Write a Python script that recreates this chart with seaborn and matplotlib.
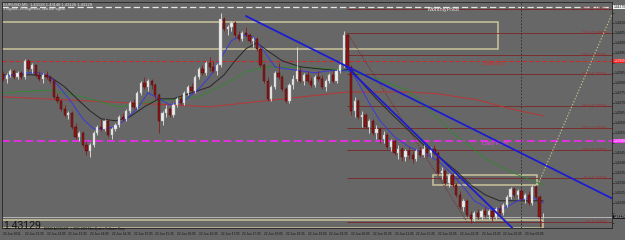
import numpy as np
import pandas as pd
import matplotlib
matplotlib.use("Agg")
import matplotlib.pyplot as plt
import matplotlib.transforms as mtransforms
from matplotlib.patches import Rectangle
import seaborn as sns

# ---------------- data ----------------
start_time = "2011-06-22 12:05"
opens = [1.4384, 1.4382, 1.4384, 1.4386, 1.4383, 1.4385, 1.4383, 1.4391, 1.4387, 1.4389,
         1.4384, 1.4382, 1.4384, 1.4383, 1.4381, 1.4373, 1.4371, 1.4367, 1.4364, 1.4365,
         1.4358, 1.4353, 1.4355, 1.4349, 1.4346, 1.4349, 1.4355, 1.4358, 1.4357, 1.4361,
         1.4354, 1.4357, 1.4359, 1.4363, 1.4362, 1.4366, 1.4370, 1.4368, 1.4375, 1.4380,
         1.4378, 1.4381, 1.4379, 1.4374, 1.4361, 1.4365, 1.4367, 1.4364, 1.4369, 1.4372,
         1.4370, 1.4375, 1.4378, 1.4376, 1.4383, 1.4387, 1.4385, 1.4390, 1.4388, 1.4386,
         1.4389, 1.4412, 1.4407, 1.4408, 1.4410, 1.4404, 1.4402, 1.4405, 1.4404, 1.4401,
         1.4402, 1.4397, 1.4389, 1.4381, 1.4372, 1.4378, 1.4385, 1.4383, 1.4377, 1.4371,
         1.4379, 1.4382, 1.4386, 1.4381, 1.4384, 1.4381, 1.4379, 1.4383, 1.4382, 1.4378,
         1.4381, 1.4384, 1.4381, 1.4386, 1.4389, 1.4404, 1.4388, 1.4366, 1.4371, 1.4363,
         1.4364, 1.4358, 1.4361, 1.4355, 1.4357, 1.4352, 1.4354, 1.4348, 1.4351, 1.4345,
         1.4347, 1.4343, 1.4346, 1.4344, 1.4342, 1.4346, 1.4344, 1.4347, 1.4345, 1.4347,
         1.4345, 1.4335, 1.4336, 1.4330, 1.4334, 1.4329, 1.4324, 1.4318, 1.4321, 1.4314,
         1.4312, 1.4315, 1.4313, 1.4316, 1.4314, 1.4316, 1.4313, 1.4317, 1.4315, 1.4319,
         1.4323, 1.4327, 1.4324, 1.4326, 1.4322, 1.4324, 1.4320, 1.4328, 1.4323, 1.43128]
highs = [1.4386, 1.4385, 1.4387, 1.4387, 1.4386, 1.4386, 1.4392, 1.4392, 1.4390, 1.4389,
         1.4386, 1.4385, 1.4386, 1.4384, 1.4382, 1.4375, 1.4372, 1.4369, 1.4366, 1.4366,
         1.4360, 1.4356, 1.4356, 1.4351, 1.4350, 1.4356, 1.4359, 1.4362, 1.4362, 1.4362,
         1.4358, 1.4360, 1.4364, 1.4365, 1.4367, 1.4371, 1.4372, 1.4376, 1.4381, 1.4383,
         1.4382, 1.4382, 1.4380, 1.4375, 1.4366, 1.4369, 1.4368, 1.4370, 1.4373, 1.4374,
         1.4376, 1.4379, 1.4380, 1.4384, 1.4388, 1.4389, 1.4391, 1.4393, 1.4391, 1.4390,
         1.4415, 1.4413, 1.4409, 1.4411, 1.4411, 1.4406, 1.4406, 1.4408, 1.4405, 1.4403,
         1.4403, 1.4398, 1.4390, 1.4383, 1.4379, 1.4386, 1.4390, 1.4384, 1.4378, 1.4380,
         1.4384, 1.4398, 1.4388, 1.4385, 1.4386, 1.4383, 1.4384, 1.4386, 1.4384, 1.4382,
         1.4385, 1.4386, 1.4387, 1.4391, 1.4406, 1.4405, 1.4389, 1.4373, 1.4372, 1.4366,
         1.4365, 1.4362, 1.4362, 1.4359, 1.4358, 1.4356, 1.4355, 1.4352, 1.4352, 1.4349,
         1.4348, 1.4347, 1.4348, 1.4346, 1.4347, 1.4348, 1.4349, 1.4348, 1.4348, 1.4349,
         1.4346, 1.4338, 1.4337, 1.4335, 1.4335, 1.4330, 1.4326, 1.4322, 1.4322, 1.4316,
         1.4316, 1.4317, 1.4317, 1.4318, 1.4317, 1.4317, 1.4318, 1.4319, 1.4320, 1.4324,
         1.4328, 1.4328, 1.4327, 1.4327, 1.4325, 1.4326, 1.4329, 1.4329, 1.4324, 1.43148]
lows = [1.4381, 1.4380, 1.4383, 1.4382, 1.4382, 1.4382, 1.4382, 1.4386, 1.4385, 1.4383,
        1.4381, 1.4380, 1.4382, 1.4380, 1.4372, 1.4370, 1.4366, 1.4363, 1.4362, 1.4357,
        1.4352, 1.4351, 1.4348, 1.4344, 1.4343, 1.4348, 1.4354, 1.4356, 1.4356, 1.4353,
        1.4352, 1.4356, 1.4358, 1.4361, 1.4361, 1.4365, 1.4367, 1.4367, 1.4374, 1.4377,
        1.4376, 1.4377, 1.4372, 1.4355, 1.4359, 1.4363, 1.4363, 1.4363, 1.4368, 1.4369,
        1.4369, 1.4374, 1.4375, 1.4375, 1.4382, 1.4384, 1.4384, 1.4386, 1.4385, 1.4384,
        1.4388, 1.4406, 1.4404, 1.4406, 1.4403, 1.4401, 1.4401, 1.4403, 1.4400, 1.4398,
        1.4396, 1.4388, 1.4380, 1.4371, 1.4371, 1.4377, 1.4382, 1.4376, 1.4370, 1.4370,
        1.4377, 1.4381, 1.4380, 1.4379, 1.4380, 1.4378, 1.4378, 1.4381, 1.4377, 1.4376,
        1.4380, 1.4380, 1.4380, 1.4385, 1.4388, 1.4387, 1.4364, 1.4363, 1.4362, 1.4358,
        1.4357, 1.4355, 1.4354, 1.4352, 1.4350, 1.4350, 1.4347, 1.4346, 1.4344, 1.4342,
        1.4341, 1.4341, 1.4342, 1.4340, 1.4341, 1.4343, 1.4343, 1.4343, 1.4343, 1.4344,
        1.4334, 1.4332, 1.4329, 1.4328, 1.4328, 1.4323, 1.4317, 1.4316, 1.4313, 1.4310,
        1.4311, 1.4312, 1.4312, 1.4313, 1.4312, 1.4311, 1.4312, 1.4314, 1.4314, 1.4318,
        1.4322, 1.4323, 1.4322, 1.4321, 1.4320, 1.4319, 1.4319, 1.4322, 1.4308, 1.43126]
closes = [1.4382, 1.4384, 1.4386, 1.4383, 1.4385, 1.4383, 1.4391, 1.4387, 1.4389, 1.4384,
          1.4382, 1.4384, 1.4383, 1.4381, 1.4373, 1.4371, 1.4367, 1.4364, 1.4365, 1.4358,
          1.4353, 1.4355, 1.4349, 1.4346, 1.4349, 1.4355, 1.4358, 1.4357, 1.4361, 1.4354,
          1.4357, 1.4359, 1.4363, 1.4362, 1.4366, 1.4370, 1.4368, 1.4375, 1.4380, 1.4378,
          1.4381, 1.4379, 1.4374, 1.4361, 1.4365, 1.4367, 1.4364, 1.4369, 1.4372, 1.4370,
          1.4375, 1.4378, 1.4376, 1.4383, 1.4387, 1.4385, 1.4390, 1.4388, 1.4386, 1.4389,
          1.4412, 1.4407, 1.4408, 1.4410, 1.4404, 1.4402, 1.4405, 1.4404, 1.4401, 1.4402,
          1.4397, 1.4389, 1.4381, 1.4372, 1.4378, 1.4385, 1.4383, 1.4377, 1.4371, 1.4379,
          1.4382, 1.4386, 1.4381, 1.4384, 1.4381, 1.4379, 1.4383, 1.4382, 1.4378, 1.4381,
          1.4384, 1.4381, 1.4386, 1.4389, 1.4404, 1.4388, 1.4366, 1.4371, 1.4363, 1.4364,
          1.4358, 1.4361, 1.4355, 1.4357, 1.4352, 1.4354, 1.4348, 1.4351, 1.4345, 1.4347,
          1.4343, 1.4346, 1.4344, 1.4342, 1.4346, 1.4344, 1.4347, 1.4345, 1.4347, 1.4345,
          1.4335, 1.4336, 1.4330, 1.4334, 1.4329, 1.4324, 1.4318, 1.4321, 1.4314, 1.4312,
          1.4315, 1.4313, 1.4316, 1.4314, 1.4316, 1.4313, 1.4317, 1.4315, 1.4319, 1.4323,
          1.4327, 1.4324, 1.4326, 1.4322, 1.4324, 1.4320, 1.4328, 1.4323, 1.43128, 1.43129]

# moving averages (vertices)
ma_fast_idx = [0, 6, 10, 13, 16, 19, 22, 25, 28, 31, 34, 37, 40, 43, 46, 50, 54, 57, 60, 63,
               66, 69, 72, 75, 78, 82, 86, 90, 94, 96, 98, 101, 104, 108, 112, 116, 120, 123,
               127, 130, 134, 138, 142, 146, 149]
ma_fast = [1.4383, 1.4385, 1.4385, 1.4383, 1.4377, 1.4370, 1.4362, 1.4357, 1.4357, 1.4358,
           1.4362, 1.4367, 1.4375, 1.4372, 1.4369, 1.4371, 1.4377, 1.4383, 1.4392, 1.4401,
           1.4404, 1.4403, 1.4396, 1.4388, 1.4387, 1.4386, 1.4385, 1.4386, 1.4386, 1.4386,
           1.4380, 1.4370, 1.4361, 1.4353, 1.4348, 1.4345, 1.4341, 1.4336, 1.4328, 1.4321,
           1.4317, 1.4317, 1.4321, 1.4323, 1.4320]
ma_mid_idx = [0, 8, 13, 17, 21, 24, 27, 31, 35, 39, 43, 47, 52, 57, 61, 64, 67, 70, 73, 77,
              82, 87, 93, 96, 99, 103, 108, 112, 116, 121, 125, 129, 133, 137, 142, 146, 149]
ma_mid = [1.4384, 1.4384, 1.4383, 1.4378, 1.4371, 1.4366, 1.4362, 1.4361, 1.4363, 1.4368,
          1.4372, 1.4372, 1.4375, 1.4378, 1.4384, 1.4391, 1.4397, 1.4400, 1.4396, 1.4391,
          1.4388, 1.4387, 1.4386, 1.4387, 1.4380, 1.4372, 1.4363, 1.4356, 1.4349, 1.4342,
          1.4336, 1.4329, 1.4324, 1.4321, 1.4321, 1.4321, 1.4321]
ma_slow_idx = [0, 13, 24, 32, 43, 54, 63, 67, 73, 87, 94, 103, 112, 120, 126, 134, 142, 149]
ma_slow = [1.4375, 1.43764, 1.4372, 1.4368, 1.4371, 1.4373, 1.4381, 1.43855, 1.4388, 1.43874,
           1.43864, 1.4382, 1.4376, 1.4362, 1.4352, 1.4341, 1.4334, 1.4329]
ma_long_idx = [0, 57, 95, 112, 120, 131, 140, 149]
ma_long = [1.4373, 1.4368, 1.43754, 1.43754, 1.43745, 1.43714, 1.4367, 1.43635]

# pivots / levels
monthly_pivot = 1.44179
daily_r1 = 1.43909
daily_pivot = 1.43509
bid = 1.43129

# fibonacci (anchored at bar 95)
fib_start = 95
fib_prices = [1.44169, 1.44049, 1.43940, 1.43844, 1.43684, 1.43574, 1.43464, 1.43324, 1.43104]
fib_names = ["300.0", "261.8", "238.2", "200.0", "161.8", "127.2", "100.0", "61.8", "0.0"]
fib_diag_idx = [95, 128]
fib_diag_price = [1.44049, 1.43104]

# trend lines (bar index, price)
tl1_idx, tl1_price = [67, 168], [1.44134, 1.43222]
tl2_idx, tl2_price = [94.5, 140.5], [1.43884, 1.43074]
proj_idx, proj_price = [147.5, 168], [1.43289, 1.44144]

# rectangles: (bar from, bar to, price low, price high)
zones = [(-1, 136.5, 1.43969, 1.44104),
         (118.5, 147.2, 1.43289, 1.43339),
         (-1, 149, 1.43074, 1.43114)]
separator_bar = 143

price_ticks = [1.4415, 1.4410, 1.4405, 1.4400, 1.4395, 1.4390, 1.4385, 1.4380, 1.4375,
               1.4370, 1.4365, 1.4360, 1.4355, 1.4350, 1.4345, 1.4340, 1.4335, 1.4330,
               1.4325, 1.4320, 1.4315, 1.4310]

# ---------------- figure ----------------
W, H = 625, 240
BG = "#676767"
sns.set_style("dark")
plt.rcParams["font.family"] = ["Liberation Sans", "DejaVu Sans"]

fig = plt.figure(figsize=(W / 100, H / 100), dpi=100)
fig.patch.set_facecolor(BG)
ax = fig.add_axes([2 / W, 12 / H, 610 / W, 226 / H])
ax.set_facecolor(BG)
ax.grid(False)

idx = np.arange(len(closes))
o, h, l, c = map(np.array, (opens, highs, lows, closes))
up = c >= o
dn = ~up

# zones
for x0, x1, p0, p1 in zones:
    ax.add_patch(Rectangle((x0, p0), x1 - x0, p1 - p0, fill=False,
                           edgecolor="#c9c49b", lw=1.1, zorder=1))

# horizontal levels
ax.axhline(monthly_pivot, color="#e6e6e6", lw=0.9, dashes=(5, 2.5), zorder=1)
ax.axhline(daily_r1, color="#cc2a2a", lw=0.8, dashes=(4, 2), zorder=1)
ax.axhline(daily_pivot, color="#e030e0", lw=1.4, dashes=(4, 2), zorder=1)
ax.axhline(bid, color="#b4b4b4", lw=0.7, zorder=1)
ax.axvline(separator_bar, color="#2a2a2a", lw=0.6, ls=(0, (2, 2)), zorder=1)

# fibonacci
ax.hlines(fib_prices, fib_start, 170, color="#7a2626", lw=0.6, zorder=1)
sns.lineplot(x=fib_diag_idx, y=fib_diag_price, ax=ax, color="#7a2626", lw=0.6,
             linestyle=(0, (1.5, 1.5)), zorder=1)
tr = mtransforms.blended_transform_factory(ax.transAxes, ax.transData)
for p, name in zip(fib_prices, fib_names):
    ax.text(0.99, p, f"{name} ({p:.5f})", transform=tr, ha="right", va="center",
            fontsize=2.4, color="#9a2c2c", zorder=2)

# moving averages
sns.lineplot(x=ma_long_idx, y=ma_long, ax=ax, color="#b23a3a", lw=0.8, zorder=2)
sns.lineplot(x=ma_slow_idx, y=ma_slow, ax=ax, color="#2f8a2f", lw=0.6, zorder=2)
sns.lineplot(x=ma_mid_idx, y=ma_mid, ax=ax, color="#262626", lw=0.7, zorder=2)
sns.lineplot(x=ma_fast_idx, y=ma_fast, ax=ax, color="#3a3ad8", lw=0.7, zorder=2)

# candles
ax.vlines(idx[up], l[up], h[up], color="#e4e4e4", lw=0.6, zorder=3)
ax.vlines(idx[dn], l[dn], h[dn], color="#8e1a1a", lw=0.6, zorder=3)
ax.bar(idx[up], np.maximum(c - o, 0.00002)[up], bottom=o[up], width=0.62,
       color="#ececec", edgecolor="#b8b8b8", lw=0.3, zorder=4)
ax.bar(idx[dn], (o - c)[dn], bottom=c[dn], width=0.62,
       color="#8e1414", edgecolor="#3c0c0c", lw=0.3, zorder=4)

# trend lines
sns.lineplot(x=tl1_idx, y=tl1_price, ax=ax, color="#1c1cd2", lw=1.3, zorder=5)
sns.lineplot(x=tl2_idx, y=tl2_price, ax=ax, color="#1c1cd2", lw=1.3, zorder=5)
sns.lineplot(x=proj_idx, y=proj_price, ax=ax, color="#c9c48a", lw=0.8,
             linestyle=(0, (1.2, 1.6)), zorder=5)

# labels on chart
ax.text(0.697, monthly_pivot, "MonthlyPivot", transform=tr, ha="left", va="top",
        fontsize=4.0, color="#f0f0f0")
ax.text(0.789, daily_r1, "Daily R1", transform=tr, ha="left", va="top",
        fontsize=4.0, color="#e02828")
ax.text(0.787, daily_pivot, "Daily Pivot", transform=tr, ha="left", va="top",
        fontsize=4.0, color="#f040f0")

# axes limits / ticks
ax.set_xlim(-0.28, 168.0)
ax.set_ylim(1.43074, 1.44204)
ax.yaxis.tick_right()
tags = [monthly_pivot, daily_r1, daily_pivot, bid]
ax.set_yticks(price_ticks)
ax.set_yticklabels(["" if min(abs(p - t) for t in tags) < 0.0003 else f"{p:.4f}"
                    for p in price_ticks])
times = pd.date_range(start_time, periods=len(closes), freq="5min")
tick_bars = idx[::6]
tick_labels = [times[0].strftime("%d %b %Y")] + [times[i].strftime("%d %b %H:%M") for i in tick_bars[1:]]
ax.set_xticks(tick_bars)
ax.set_xticklabels(tick_labels, ha="left")
ax.tick_params(axis="y", labelsize=2.5, colors="#141414", length=1.2, width=0.4, pad=0.6)
ax.tick_params(axis="x", labelsize=2.3, colors="#141414", length=1.2, width=0.4, pad=1.8)
ax.set_xlabel(""); ax.set_ylabel("")
for s in ax.spines.values():
    s.set_color("#262626"); s.set_linewidth(0.6)

# price tags on the right scale
def tag(price, fc, tc):
    ax.text(1.0025, price, f"{price:.5f}", transform=tr, ha="left", va="center",
            fontsize=2.3, color=tc, zorder=6, clip_on=False,
            bbox=dict(boxstyle="square,pad=0.15", fc=fc, ec="none"))
tag(monthly_pivot, "#f4f4f4", "#111111")
tag(daily_r1, "#ff1a1a", "#ffffff")
tag(daily_pivot, "#ff30ff", "#ffffff")
tag(bid, "#1a1a1a", "#ffffff")

# header / footer texts
fig.text(3 / W, 1 - 4.5 / H, f"EURUSD,M5  {opens[-1]:.5f} {highs[-1]:.5f} {lows[-1]:.5f} {closes[-1]:.5f}",
         fontsize=3.0, color="#e8e8e8", va="center", ha="left")
fig.text(3 / W, 1 - 9 / H, "3 signals, 28 segments, last bar signal",
         fontsize=2.6, color="#e0e0e0", va="center", ha="left")
fig.text(3 / W, (H - 228.6) / H, f"{closes[-1]:.5f}", fontsize=7.5, color="#101010",
         va="baseline", ha="left")
fig.text(44 / W, (H - 229.8) / H, "DEMO ACCOUNT  © 2001-2010 MetaQuotes Software Corp.",
         fontsize=2.2, color="#101010", va="baseline", ha="left")

fig.savefig("out.png", dpi=100, facecolor=BG)
